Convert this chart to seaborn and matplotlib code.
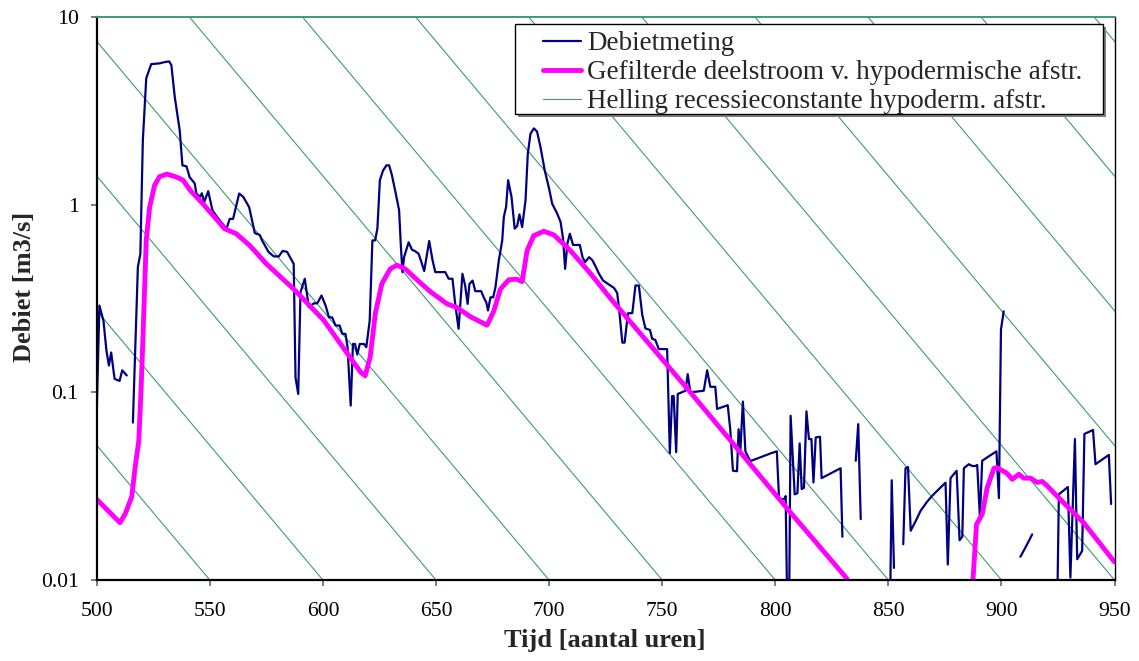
import numpy as np
import pandas as pd
import matplotlib
matplotlib.use("Agg")
import matplotlib.pyplot as plt
import seaborn as sns
from matplotlib.lines import Line2D
from matplotlib.patches import Rectangle
from matplotlib.ticker import NullLocator

NaN = np.nan

# --- Debietmeting (measured discharge, m3/s); NaN = gap in the record
meas_t = [500, 501.2, 503, 504.3, 505.4, 506.4, 507.9, 510.1, 511.3, 513.3, NaN,
          516, 518.2, 519.3, 520.4, 521.9, 524.1, 527.8, 530, 532, 533, 534.5, 536.7,
          537.9, 539.7, 541.1, 543.3, 544.1, 545.6, 546.5, 547.5, 549.3, 551.2, 554.4,
          557.4, 558.8, 560.3, 563, 564.8, 567.4, 569.9, 572.1,
          573.1, 576, 578.3, 580.5, 582.2, 584.2, 587.1, 587.9, 589.1, 590.1, 592,
          593.8, 596, 597.5, 599.4, 601.2, 602.7, 604.1, 605.6, 607.4, 608.6, 610,
          610.9, 612.3, 613.3, 614.2, 615.2, 616.3, 618.2, 619.2, 620.7, 621.9, 623.1,
          624.1, 625.2, 626.6, 628.1, 629.3, 630.5, 632.2, 633.7, 634.5, 635.2, 635.9,
          637.9, 639.4, 640.8, 642.3, 643.3, 644.8, 647, 648.5,
          649.7, 654.1, 655.6, 657.3, 658.5, 660, 661.7, 662.9, 664, 664.8, 666.2,
          667.4, 670, 671.1, 672.3, 673, 674.1, 675.3, 676.3, 677.8, 679.3, 680, 681,
          681.9, 683.4, 684.8, 685.9, 686.9, 688.1, 689.6, 690.6, 691.8, 693.3, 694.7,
          696.2, 698.1, 700, 701.4, 703.6, 705.1, 706.2, 707.1, 708.1, 709.2, 710.6,
          713.6, 714.8, 715.9, 717.7, 719.2, 720.7, 722.1, 723.9, 725.8,
          728.7, 730.1, 730.9, 732.4, 733.4, 734.9, 736.8, 738.2, 739.7, 741.2, 742.6,
          744.6, 745.6, 747, 748.5, 752.2, 753.4, 754.4, 755.1, 756.2, 756.9, 760.3,
          761.3, 762.5, 768.4, 769.9, 771.3, 773.5, 774.3, 779, 780.1, 781.3, 783.1,
          783.8, 784.6, 785.7, 786.8, 789, 798, 800.7, 801.7, 803.9, 804.6, 805.4,
          806.1, 806.8, 808.6, 809.8, 810.8, 811.7, 812.7, 813.8, 814.9, 816, 816.9,
          817.9, 819.8, 820.5, 828.9, 829.7, NaN,
          835.6, 836.7, 837.8, NaN,
          850.7, 851.5, 852.5, NaN,
          856.6, 857.6, 858.7, 859.9, 862, 864.3, 867, 869.4, 872, 875.3, 876.3, 877.5,
          880.2, 881.5, 882.7, 883.4, 885.6, 887.1, 888.6, 889.3, 890.5, 891.5, 897.8,
          898.9, 899.8, 901, NaN,
          908.4, 911, 913.6, NaN,
          924.6, 925.4, 929.4, 930.5, 932.5, 933.5, 935.7, 936.7, 940.5, 941.6, 947.5,
          948.5]
meas_q = [0.078, 0.29, 0.24, 0.167, 0.139, 0.163, 0.118, 0.115, 0.131, 0.123, NaN,
          0.069, 0.465, 0.547, 2.2, 4.71, 5.61, 5.66, 5.75, 5.8, 5.55, 3.76, 2.49,
          1.62, 1.6, 1.40, 1.30, 1.146, 1.1, 1.15, 1.03, 1.18, 0.93, 0.824,
          0.745, 0.84, 0.84, 1.146, 1.1, 0.97, 0.706, 0.69,
          0.645, 0.559, 0.53, 0.53, 0.567, 0.56, 0.484, 0.12, 0.098, 0.342, 0.403,
          0.284, 0.298, 0.298, 0.328, 0.29, 0.251, 0.251, 0.227, 0.227, 0.205, 0.205,
          0.174, 0.085, 0.181, 0.181, 0.159, 0.181, 0.181, 0.174, 0.241, 0.645, 0.645,
          0.745, 1.35, 1.52, 1.62, 1.62, 1.44, 1.15, 0.934, 0.594, 0.437, 0.525,
          0.63, 0.575, 0.565, 0.548, 0.505, 0.443, 0.64, 0.505,
          0.437, 0.437, 0.403, 0.403, 0.296, 0.218, 0.428, 0.371, 0.296, 0.378, 0.394,
          0.346, 0.346, 0.321, 0.30, 0.273, 0.321, 0.321, 0.363, 0.505, 0.645, 0.86, 0.972,
          1.35, 1.1, 0.745, 0.77, 0.887, 0.76, 1.054, 1.87, 2.39, 2.55, 2.45,
          2.03, 1.52, 1.22, 1.01, 0.896, 0.808, 0.659, 0.455, 0.62, 0.70, 0.61,
          0.61, 0.525, 0.494, 0.525, 0.505, 0.465, 0.428, 0.394, 0.38,
          0.36, 0.339, 0.283, 0.184, 0.184, 0.264, 0.264, 0.371, 0.371, 0.259, 0.219,
          0.215, 0.193, 0.19, 0.17, 0.17, 0.0474, 0.0955, 0.0955, 0.048, 0.098, 0.102,
          0.125, 0.1, 0.102, 0.131, 0.107, 0.107, 0.0816, 0.0854, 0.0636, 0.0382, 0.038,
          0.0636, 0.0496, 0.0893, 0.0485, 0.043, 0.0473, 0.0485, 0.027, 0.027, 0.028, 0.006,
          0.006, 0.075, 0.0286, 0.029, 0.0534, 0.0305, 0.031, 0.0792, 0.0564, 0.0564, 0.0331,
          0.0575, 0.058, 0.0349, 0.0394, 0.017, NaN,
          0.0432, 0.0677, 0.0211, NaN,
          0.006, 0.034, 0.0116, NaN,
          0.0155, 0.0394, 0.04, 0.0183, 0.0205, 0.0234, 0.026, 0.0281, 0.0302, 0.033, 0.0121, 0.0349,
          0.0382, 0.0163, 0.017, 0.0394, 0.0414, 0.0405, 0.0405, 0.041, 0.0215, 0.0432, 0.0485,
          0.0273, 0.216, 0.27, NaN,
          0.0133, 0.0152, 0.0175, NaN,
          0.006, 0.0286, 0.0313, 0.0103, 0.0564, 0.0129, 0.0143, 0.06, 0.063, 0.0414, 0.0464,
          0.0254]

# --- Gefilterde deelstroom v. hypodermische afstroming
filt_t = [500, 510.3, 512.6, 515.5, 517, 518.6, 519.6, 520.4, 521.9, 523.4, 525.6,
          527.8, 531, 535.5, 538.2, 541.4, 547, 556.5, 561.7, 567.6, 575, 587.1,
          600.4, 616.7, 618.7, 620.9, 623.2, 626.1, 629.8, 632.7, 636.4, 641.6, 647.5,
          654.9, 659.3, 665.2, 672.6, 675.5, 678.5, 682.2, 685.8, 688.1, 690.3, 693.2,
          697.6, 702.1, 709.4, 718.3, 727.1, 762.5, 806.6, 831.6, 834, NaN,
          886, 887.4, 889, 891.5, 893.7, 896.7, 898.1, 902.5, 904.8, 907.7, 909.9,
          912.9, 915.8, 918, 920.2, 924.6, 936.5, 949.7, 950]
filt_q = [0.0269, 0.0202, 0.0225, 0.0278, 0.040, 0.055, 0.102, 0.189, 0.645, 0.97, 1.27,
          1.41, 1.456, 1.40, 1.35, 1.19, 1.01, 0.745, 0.70, 0.607, 0.484, 0.355,
          0.242, 0.128, 0.1225, 0.154, 0.264, 0.38, 0.455, 0.476, 0.455, 0.398, 0.344,
          0.296, 0.283, 0.253, 0.228, 0.27, 0.355, 0.398, 0.401, 0.389, 0.57, 0.683,
          0.722, 0.69, 0.57, 0.43, 0.317, 0.1, 0.023, 0.0102, 0.0085, NaN,
          0.007, 0.0099, 0.0198, 0.0224, 0.031, 0.0394, 0.0397, 0.037, 0.0344, 0.0366, 0.0349,
          0.0349, 0.0331, 0.0335, 0.0318, 0.028, 0.0201, 0.0126, 0.0125]

# --- Helling recessieconstante: each line runs from (top_t, 10) to (bottom_t, 0.01)
rec_bottom_t = [550, 600, 650, 700, 750, 800, 850, 900, 950, 1000, 1050, 1100, 1150]
rec_top_t = [341, 391, 441, 491, 541, 591, 641, 691, 741, 791, 841, 891, 941]
rec_q_ends = [10, 0.01]

x_ticks = [500, 550, 600, 650, 700, 750, 800, 850, 900, 950]
y_ticks = [0.01, 0.1, 1, 10]
y_tick_labels = ["0.01", "0.1", "1", "10"]


def to_segments(t, q):
    df = pd.DataFrame({"t": t, "q": q})
    df["seg"] = df["q"].isna().cumsum()
    return df.dropna()


meas_df = to_segments(meas_t, meas_q)
filt_df = to_segments(filt_t, filt_q)
rec_rows = []
for i, (tt, tb) in enumerate(zip(rec_top_t, rec_bottom_t)):
    rec_rows.append({"t": tt, "q": rec_q_ends[0], "seg": i})
    rec_rows.append({"t": tb, "q": rec_q_ends[1], "seg": i})
rec_df = pd.DataFrame(rec_rows)

sns.set_style("ticks")
plt.rcParams["font.family"] = ["Liberation Serif", "DejaVu Serif"]

W, H = 1139, 661
fig = plt.figure(figsize=(W / 100, H / 100), dpi=100)
L, R, T, B = 96.7, 1114.5, 17, 580
ax = fig.add_axes([L / W, 1 - B / H, (R - L) / W, (B - T) / H])

GREEN = "#3c9c6c"
BLUE = "#000080"
MAGENTA = "#ff00ff"

sns.lineplot(data=rec_df, x="t", y="q", units="seg", estimator=None, sort=False,
             color=GREEN, lw=0.8, ax=ax, legend=False)
sns.lineplot(data=meas_df, x="t", y="q", units="seg", estimator=None, sort=False,
             color=BLUE, lw=1.6, ax=ax, legend=False)
sns.lineplot(data=filt_df, x="t", y="q", units="seg", estimator=None, sort=False,
             color=MAGENTA, lw=3.5, ax=ax, legend=False, solid_capstyle="round")

ax.set_yscale("log")
ax.set_xlim(500, 950)
ax.set_ylim(0.01, 10)
ax.set_xticks(x_ticks)
ax.set_xticklabels([str(v) for v in x_ticks])
ax.set_yticks(y_ticks)
ax.set_yticklabels(y_tick_labels)
ax.yaxis.set_minor_locator(NullLocator())
ax.xaxis.set_minor_locator(NullLocator())
ax.tick_params(axis="both", direction="out", length=4, width=1.2, colors="#666666",
               labelcolor="black", labelsize=15.6)
ax.tick_params(axis="x", pad=12)
ax.tick_params(axis="y", pad=9)

for side in ["left", "bottom"]:
    ax.spines[side].set_linewidth(1.6)
    ax.spines[side].set_color("black")
ax.spines["right"].set_linewidth(1.0)
ax.spines["right"].set_color("black")
ax.spines["top"].set_linewidth(1.4)
ax.spines["top"].set_color(GREEN)
for s in ax.spines.values():
    s.set_visible(True)
ax.grid(False)

ax.set_xlabel("Tijd [aantal uren]", fontsize=19, fontweight="bold")
ax.set_ylabel("Debiet [m3/s]", fontsize=19, fontweight="bold")
ax.xaxis.set_label_coords((605 - L) / (R - L), -(629 - B) / (B - T))
ax.yaxis.set_label_coords((36 - L) / (R - L), 1 - (287 - T) / (B - T))

# Legend frame (with shadow) and legend entries
lx0, lx1, ly0, ly1 = 515, 1103, 24.3, 114
shadow = Rectangle(((lx0 + 3) / W, 1 - (ly1 + 3) / H), (lx1 - lx0) / W, (ly1 - ly0) / H,
                   transform=fig.transFigure, facecolor="#808080", edgecolor="none",
                   zorder=3)
frame = Rectangle((lx0 / W, 1 - ly1 / H), (lx1 - lx0) / W, (ly1 - ly0) / H,
                  transform=fig.transFigure, facecolor="white", edgecolor="black",
                  linewidth=1.0, zorder=4)
fig.patches.extend([shadow, frame])

handles = [Line2D([], [], color=BLUE, lw=1.6),
           Line2D([], [], color=MAGENTA, lw=3.5),
           Line2D([], [], color=GREEN, lw=0.8)]
labels = ["Debietmeting",
          "Gefilterde deelstroom v. hypodermische afstr.",
          "Helling recessieconstante hypoderm. afstr."]
leg = fig.legend(handles, labels, loc="upper left",
                 bbox_to_anchor=(543 / W, 1 - 31.5 / H), bbox_transform=fig.transFigure,
                 frameon=False, borderpad=0, borderaxespad=0, labelspacing=0.14,
                 handlelength=1.42, handletextpad=0.22, fontsize=19.5)
leg.set_zorder(6)

fig.savefig("out.png", dpi=100)
